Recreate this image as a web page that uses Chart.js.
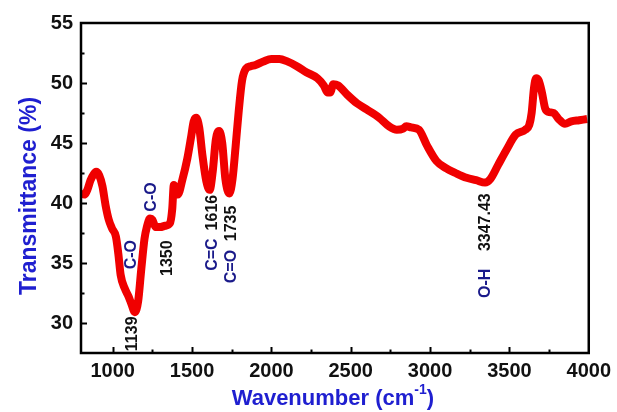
<!DOCTYPE html>
<html>
<head>
<meta charset="utf-8">
<script src="https://cdn.jsdelivr.net/npm/chart.js@4.4.1/dist/chart.umd.min.js"></script>
<style>
  html, body { margin: 0; padding: 0; background: #fff; }
  #wrap { width: 617px; height: 412px; }
</style>
</head>
<body>
<div id="wrap"><canvas id="ftir" width="617" height="412"></canvas></div>
<script>
// FTIR spectrum
const wavenumbers = [800, 820, 840, 860, 880, 895, 915, 935, 955, 975, 995, 1020, 1035, 1050, 1075, 1100, 1120, 1139, 1160, 1180,
  1200, 1215, 1235, 1250, 1270, 1300, 1330, 1360, 1375, 1385, 1395, 1410, 1440, 1470, 1495, 1510, 1525, 1545, 1565, 1590,
  1611, 1630, 1650, 1670, 1690, 1710, 1735, 1755, 1775, 1795, 1815, 1840, 1870, 1900, 1950, 2000, 2050, 2100, 2160, 2220,
  2290, 2330, 2355, 2370, 2390, 2420, 2480, 2540, 2600, 2680, 2740, 2790, 2830, 2850, 2880, 2930, 2980, 3040, 3100, 3160,
  3230, 3290, 3347, 3380, 3430, 3480, 3540, 3600, 3625, 3640, 3655, 3668, 3685, 3705, 3725, 3745, 3780, 3810, 3850, 3890,
  3940, 3990];
const transmittance = [40.8, 40.7, 41.1, 41.9, 42.4, 42.6, 42.3, 41.4, 39.8, 38.6, 37.9, 37.2, 35.8, 34.0, 32.9, 32.2, 31.5, 30.9, 31.8, 34.5,
  37.0, 38.0, 38.7, 38.6, 38.0, 38.0, 38.1, 38.3, 39.5, 41.5, 41.0, 40.7, 42.0, 43.7, 45.6, 46.8, 47.1, 46.3, 44.0, 41.8,
  41.1, 42.6, 45.3, 46.0, 45.0, 42.0, 40.8, 42.0, 44.8, 47.8, 50.2, 51.2, 51.4, 51.5, 51.8, 52.0, 52.0, 51.8, 51.4, 50.9,
  50.4, 49.8, 49.2, 49.2, 49.9, 49.8, 49.0, 48.3, 47.8, 47.1, 46.4, 46.1, 46.2, 46.4, 46.3, 46.1, 44.8, 43.5, 42.9, 42.5,
  42.1, 41.9, 41.7, 42.0, 43.2, 44.4, 45.7, 46.1, 46.5, 47.5, 49.6, 50.4, 50.2, 49.2, 47.9, 47.6, 47.5, 47.0, 46.6, 46.8,
  46.9, 47.0];

// axis ticks (majors get labels, the rest are minor marks)
const xTicks = [1000, 1250, 1500, 1750, 2000, 2250, 2500, 2750, 3000, 3250, 3500, 3750, 4000];
const xLabelled = [1000, 1500, 2000, 2500, 3000, 3500, 4000];
const yTicks = [27.5, 30, 32.5, 35, 37.5, 40, 42.5, 45, 47.5, 50, 52.5, 55];
const yLabelled = [30, 35, 40, 45, 50, 55];

// peak labels (text, wavenumber, transmittance where the text is centred, colour)
const peakText = ["C-O", "1139", "C-O", "1350", "1616", "C=C", "1735", "C=O", "3347.43", "O-H"];
const peakX    = [1119, 1127, 1244, 1347, 1632, 1632, 1752, 1752, 3352, 3352];
const peakY    = [35.7, 29.1, 40.5, 35.4, 39.2, 35.7, 38.3, 34.7, 38.4, 33.3];
const peakBlue = [true, false, true, false, false, true, false, true, false, true];

const xMin = 800, xMax = 4000, yMin = 27.5, yMax = 55;

const points = wavenumbers.map((w, i) => ({ x: w, y: transmittance[i] }));

const frameAndLabels = {
  id: 'frameAndLabels',
  afterDraw(chart) {
    const ctx = chart.ctx;
    const a = chart.chartArea;
    const xs = chart.scales.x, ys = chart.scales.y;
    ctx.save();

    // frame
    ctx.strokeStyle = '#000';
    ctx.lineWidth = 2.5;
    ctx.strokeRect(a.left, a.top, a.right - a.left, a.bottom - a.top);

    // inward ticks
    ctx.lineWidth = 2;
    xTicks.forEach(v => {
      if (v <= xMin || v >= xMax) return;
      const len = xLabelled.includes(v) ? 6 : 3.5;
      const px = Math.round(xs.getPixelForValue(v)) + 0.5;
      ctx.beginPath(); ctx.moveTo(px, a.bottom); ctx.lineTo(px, a.bottom - len); ctx.stroke();
    });
    yTicks.forEach(v => {
      if (v <= yMin || v >= yMax) return;
      const len = yLabelled.includes(v) ? 6 : 3.5;
      const py = Math.round(ys.getPixelForValue(v)) + 0.5;
      ctx.beginPath(); ctx.moveTo(a.left, py); ctx.lineTo(a.left + len, py); ctx.stroke();
    });

    // peak labels, rotated
    ctx.font = 'bold 16px "Liberation Sans", Arial, sans-serif';
    ctx.textAlign = 'center';
    ctx.textBaseline = 'middle';
    peakText.forEach((txt, i) => {
      ctx.save();
      ctx.translate(xs.getPixelForValue(peakX[i]), ys.getPixelForValue(peakY[i]));
      ctx.rotate(-Math.PI / 2);
      ctx.fillStyle = peakBlue[i] ? '#1a1a8a' : '#111';
      ctx.fillText(txt, 0, 0);
      ctx.restore();
    });

    // axis titles
    ctx.fillStyle = '#1f1fd0';
    ctx.font = 'bold 23px "Liberation Sans", Arial, sans-serif';
    ctx.save();
    ctx.translate(30, (a.top + a.bottom) / 2 + 8);
    ctx.rotate(-Math.PI / 2);
    ctx.fillText('Transmittance (%)', 0, 0);
    ctx.restore();

    ctx.font = 'bold 22px "Liberation Sans", Arial, sans-serif';
    const main = 'Wavenumber (cm', sup = '-1', tail = ')';
    ctx.textAlign = 'left';
    const wMain = ctx.measureText(main).width;
    const wTail = ctx.measureText(tail).width;
    ctx.font = 'bold 14px "Liberation Sans", Arial, sans-serif';
    const wSup = ctx.measureText(sup).width;
    const cx = (a.left + a.right) / 2 - 2;
    let x0 = cx - (wMain + wSup + wTail) / 2;
    const yT = 399;
    ctx.font = 'bold 22px "Liberation Sans", Arial, sans-serif';
    ctx.fillText(main, x0, yT);
    ctx.font = 'bold 14px "Liberation Sans", Arial, sans-serif';
    ctx.fillText(sup, x0 + wMain, yT - 9);
    ctx.font = 'bold 22px "Liberation Sans", Arial, sans-serif';
    ctx.fillText(tail, x0 + wMain + wSup, yT);
    ctx.restore();
  }
};

const tickFont = { family: '"Liberation Sans", Arial, sans-serif', size: 20, weight: 'bold' };

new Chart(document.getElementById('ftir').getContext('2d'), {
  type: 'line',
  data: {
    datasets: [{
      data: points,
      borderColor: '#f00000',
      borderWidth: 8,
      pointRadius: 0,
      cubicInterpolationMode: 'monotone',
      fill: false
    }]
  },
  options: {
    responsive: false,
    animation: false,
    devicePixelRatio: 1,
    layout: { padding: { left: 0, right: 27, top: 23, bottom: 0 } },
    plugins: { legend: { display: false }, tooltip: { enabled: false } },
    scales: {
      x: {
        type: 'linear',
        min: xMin, max: xMax,
        grid: { display: false, drawTicks: false },
        border: { display: false },
        afterBuildTicks: s => { s.ticks = xLabelled.map(v => ({ value: v })); },
        ticks: {
          autoSkip: false, maxRotation: 0, padding: 6,
          color: '#111', font: tickFont,
          callback: v => String(v)
        },
        afterFit: s => { s.height = 59; }
      },
      y: {
        min: yMin, max: yMax,
        grid: { display: false, drawTicks: false },
        border: { display: false },
        afterBuildTicks: s => { s.ticks = yLabelled.map(v => ({ value: v })); },
        ticks: {
          autoSkip: false, padding: 8,
          color: '#111', font: tickFont,
          callback: v => String(v)
        },
        afterFit: s => { s.width = 81; }
      }
    }
  },
  plugins: [frameAndLabels]
});
</script>
</body>
</html>
